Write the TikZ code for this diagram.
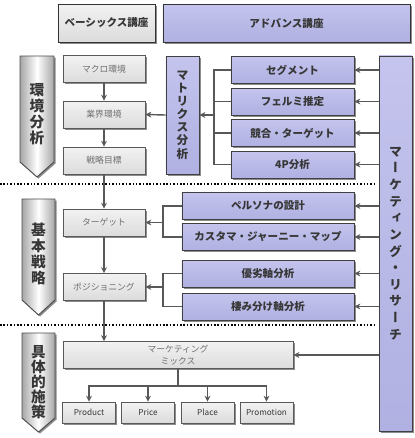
\documentclass[tikz,border=0pt]{standalone}
\usepackage{fontspec}
\setmainfont{Noto Sans CJK JP}
\newfontfamily\vjp[RawFeature=+vert]{Noto Sans CJK JP}
\usepackage{xcolor}
\usetikzlibrary{arrows.meta,positioning,shadows,calc}
\definecolor{lav}{RGB}{176,176,226}
\definecolor{lavtop}{RGB}{196,196,238}
\definecolor{boxgray}{RGB}{220,220,220}
\definecolor{boxtop}{RGB}{242,242,242}
\definecolor{linegray}{RGB}{88,88,88}
\definecolor{txtgray}{RGB}{112,112,112}
\definecolor{txtdark}{RGB}{55,55,55}

\begin{document}
\begin{tikzpicture}[x=0.03cm, y=-0.03cm,
        shade/.style={drop shadow={shadow xshift=1.3pt, shadow yshift=-1.3pt, opacity=0.45, fill=black}},
        topbox/.style={rectangle, draw=black!80, line width=0.8pt, minimum width=2.91cm, minimum height=1.14cm, font=\fontsize{9}{10}\selectfont\bfseries, text=txtdark, shade},
        graybox/.style={rectangle, draw=black!65, line width=0.8pt, top color=boxtop, bottom color=boxgray, minimum width=2.46cm, minimum height=0.81cm, inner sep=0pt, align=center, font=\fontsize{7.5}{10}\selectfont, text=txtgray, shade},
        prodbox/.style={graybox, minimum width=1.59cm, minimum height=0.63cm, font=\fontsize{7}{8}\selectfont, text=txtdark},
        purplebox/.style={rectangle, draw=black!75, line width=0.8pt, top color=lavtop, bottom color=lav, minimum width=3.69cm, minimum height=0.81cm, inner sep=0pt, font=\fontsize{9}{10}\selectfont\bfseries, text=txtdark, shade},
        vbox/.style={purplebox, minimum width=0.99cm, align=center},
        chev/.style={draw=black!70, line width=0.8pt, left color=black!35, right color=black!35, middle color=white, shade},
        chevtext/.style={align=center, inner sep=0pt, font=\fontsize{12.5}{13.6}\selectfont\bfseries, text=txtdark},
        link/.style={line width=1.2pt, draw=linegray},
        arrow/.style={link, -{Stealth[length=5pt,width=5pt]}},
        sepline/.style={line width=1.3pt, dash pattern=on 1.3pt off 1.6pt}
    ]
    \useasboundingbox (0,0) rectangle (415,438);

    % === Courses (top) ===
    \node[topbox, top color=boxtop, bottom color=boxgray] (basic) at (106.5,23) {ベーシックス講座};
    \node[topbox, top color=lavtop, bottom color=lav, minimum width=7.41cm] (advance) at (286.5,23) {アドバンス講座};

    % === Phase chevrons (left) ===
    \path[chev] (20,56) -- (54,56) -- (54,162) -- (37,177) -- (20,162) -- cycle;
    \node[chevtext] (kankyo) at (37,114) {環\\境\\分\\析};
    \path[chev] (22,199) -- (55,199) -- (55,300) -- (38.5,315) -- (22,300) -- cycle;
    \node[chevtext] (kihon) at (38.5,254) {基\\本\\戦\\略};
    \path[chev] (22,333) -- (55,333) -- (55,418) -- (38.5,432) -- (22,418) -- cycle;
    \node[chevtext, font=\fontsize{12.5}{12.9}\selectfont\bfseries] (gutai) at (38.5,382) {具\\体\\的\\施\\策};

    % === Main flow (gray) ===
    \node[graybox] (macro) at (104,69) {マクロ環境};
    \node[graybox] (gyokai) at (104,114.5) {業界環境};
    \node[graybox] (goal) at (104,160.5) {戦略目標};
    \node[graybox] (target) at (104,222.5) {ターゲット};
    \node[graybox] (position) at (104,287) {ポジショニング};
    \node[graybox, minimum width=6.9cm] (mix) at (178,355) {マーケティング\\ミックス};

    \node[prodbox] (product) at (89,412.5) {Product};
    \node[prodbox] (price) at (148,412.5) {Price};
    \node[prodbox] (place) at (207.5,412.5) {Place};
    \node[prodbox] (promo) at (266.5,412.5) {Promotion};

    % === Analyses (purple) ===
    \node[vbox, minimum height=3.54cm, font=\fontsize{10}{11.2}\selectfont\bfseries] (matrix) at (182.5,115) {マ\\ト\\リ\\ク\\ス\\分\\析};

    \node[purplebox] (segment) at (292.5,70) {セグメント};
    \node[purplebox] (fermi) at (292.5,101.5) {フェルミ推定};
    \node[purplebox] (compete) at (292.5,133) {競合・ターゲット};
    \node[purplebox] (fourp) at (292.5,164.5) {4P分析};

    \node[purplebox, minimum width=5.16cm] (persona) at (268,206) {ペルソナの設計};
    \node[purplebox, minimum width=5.16cm] (journey) at (268,237) {カスタマ・ジャーニー・マップ};
    \node[purplebox, minimum width=5.16cm] (superior) at (268,273.5) {優劣軸分析};
    \node[purplebox, minimum width=5.16cm] (niche) at (268,306.5) {棲み分け軸分析};

    \node[vbox, minimum height=11.25cm, font=\vjp\fontsize{11}{14.2}\selectfont\bfseries] (research) at (395.5,243.5) {マ\\ー\\ケ\\テ\\ィ\\ン\\グ\\・\\リ\\サ\\ー\\チ};

    % === Phase separators ===
    \draw[sepline] (0,184) -- (377,184);
    \draw[sepline] (0,325) -- (377,325);

    % === Arrows ===
    \draw[arrow] (macro) -- (gyokai);
    \draw[arrow] (gyokai) -- (goal);
    \draw[arrow] (goal) -- (target);
    \draw[arrow] (target) -- (position);
    \draw[arrow] (position) -- (position |- mix.north);

    % bracket into matrix analysis
    \coordinate (mjoin) at (214,115);
    \draw[link] (segment.west) -| (mjoin);
    \draw[link] (fourp.west) -| (mjoin);
    \draw[link] (fermi.west) -| (mjoin);
    \draw[link] (compete.west) -| (mjoin);
    \draw[arrow] (mjoin) -- (matrix.east);
    \draw[arrow] (matrix.west) -- (gyokai.east);

    % brackets into target and positioning
    \coordinate (tjoin) at (163,222.5);
    \draw[link] (persona.west) -| (tjoin);
    \draw[link] (journey.west) -| (tjoin);
    \draw[arrow] (tjoin) -- (target.east);
    \coordinate (pjoin) at (163,287);
    \draw[link] (superior.west) -| (pjoin);
    \draw[link] (niche.west) -| (pjoin);
    \draw[arrow] (pjoin) -- (position.east);

    % research feeds everything
    \foreach \n in {segment,fermi,compete,fourp,persona,journey,superior,niche,mix}
        \draw[arrow] (research.west |- \n.east) -- (\n.east);

    % marketing mix split
    \coordinate (xjoin) at (178,386);
    \draw[link] (mix.south) -- (xjoin);
    \foreach \n in {product,price,place,promo}
        \draw[arrow] (xjoin) -| (\n.north);

\end{tikzpicture}
\end{document}
